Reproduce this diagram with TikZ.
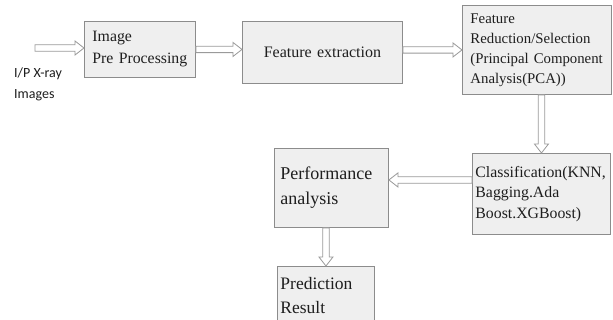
\documentclass[tikz,border=0pt]{standalone}
\usepackage{fontspec}
\setmainfont{Liberation Serif}
\newfontfamily\labelfont{Carlito}
\usetikzlibrary{calc}
\definecolor{boxfill}{HTML}{EFEFEF}
\definecolor{boxline}{HTML}{8C8C8C}
\definecolor{arrline}{HTML}{9A9A9A}
\definecolor{txt}{HTML}{1E1E1E}
\begin{document}
\begin{tikzpicture}[x=1pt,y=-1pt,
  box/.style={draw=boxline, fill=boxfill, line width=0.9pt, anchor=north west,
    align=left, text=txt, inner ysep=0pt},
  hollow/.style={draw=arrline, fill=white, line width=0.8pt,
    to path={let \p1=(\tikztostart), \p2=(\tikztotarget),
      \n1={atan2(\y2-\y1,\x2-\x1)}, \n2={veclen(\x2-\x1,\y2-\y1)} in
      {[shift={(\p1)}, rotate=\n1]
        (0pt,-3.2pt) -- ({\n2-9pt},-3.2pt) -- ({\n2-9pt},-7pt) -- (\n2,0pt)
        -- ({\n2-9pt},7pt) -- ({\n2-9pt},3.2pt) -- (0pt,3.2pt) -- cycle}}}]
\clip (0,0) rectangle (613,320);
\fill[white] (0,0) rectangle (613,320);

\node[box, inner xsep=8pt, text width=95pt, minimum height=56pt,
  font=\fontsize{15.8}{22}\selectfont] (img) at (84,21) {Image\\Pre Processing};
\node[box, inner xsep=8pt, text width=144pt, minimum height=62pt, align=center,
  font=\fontsize{16}{20}\selectfont] (fe) at (242,21) {Feature extraction};
\node[box, inner xsep=8pt, text width=133pt, minimum height=89pt,
  font=\fontsize{14.8}{20}\selectfont] (fr) at (462,5)
  {Feature\\Reduction/Selection\\(Principal Component\\Analysis(PCA))};
\node[box, inner xsep=3pt, text width=132pt, minimum height=81pt,
  font=\fontsize{15.8}{20.5}\selectfont] (cls) at (472,153)
  {Classification(KNN,\\Bagging.Ada\\Boost.XGBoost)};
\node[box, inner xsep=6pt, text width=102pt, minimum height=79pt,
  font=\fontsize{18}{25}\selectfont] (perf) at (274,148) {Performance\\analysis};
\node[box, inner xsep=3pt, text width=91pt, minimum height=58pt,
  font=\fontsize{17.5}{24}\selectfont] (pred) at (277,266) {Prediction\\Result};

\node[anchor=west, align=left, inner sep=0pt, text=txt,
  font=\labelfont\fontsize{14}{21}\selectfont] (lbl) at (14,84) {I/P X-ray\\Images};

\coordinate (src) at (35,48);
\coordinate (pc) at ($(perf.north east)!0.4!(perf.south east)$);
\draw[hollow] (src) to (src -| img.west);
\draw[hollow] (img.east) to (img.east -| fe.west);
\draw[hollow] (fr.west -| fe.east) to (fr.west);
\draw[hollow] (fr.south -| cls.north) to (cls.north);
\draw[hollow] (pc -| cls.west) to (pc);
\draw[hollow] (perf.south -| pred.north) to (pred.north);
\end{tikzpicture}
\end{document}
